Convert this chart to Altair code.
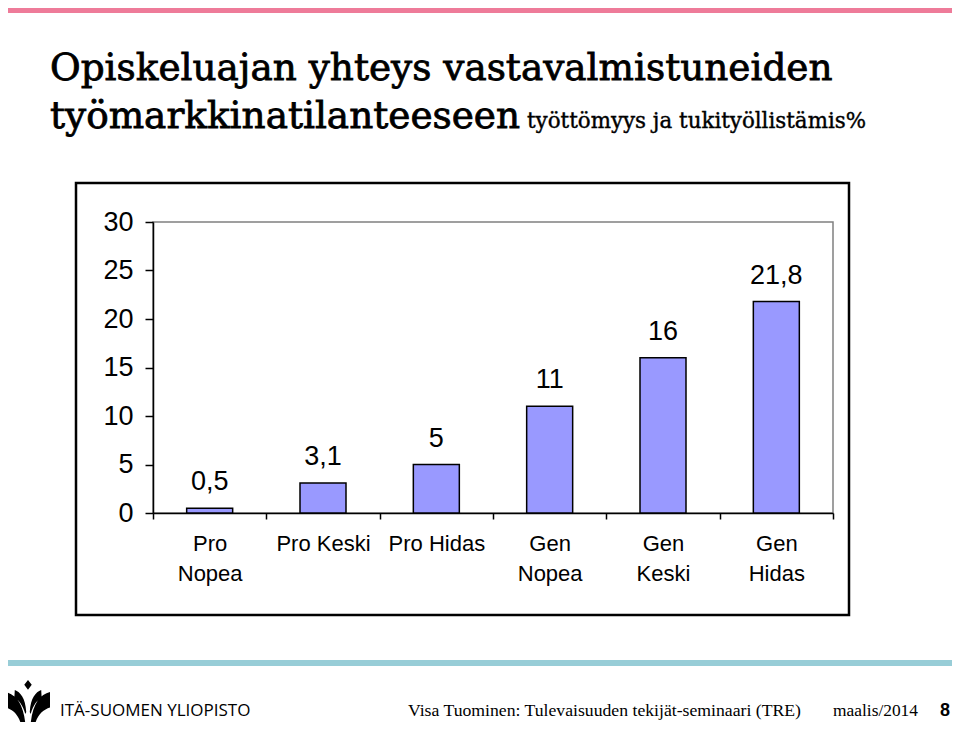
import altair as alt
import pandas as pd

categories = ["Pro\nNopea", "Pro Keski", "Pro Hidas", "Gen\nNopea", "Gen\nKeski", "Gen\nHidas"]
values = [0.5, 3.1, 5, 11, 16, 21.8]
y_ticks = [0, 5, 10, 15, 20, 25, 30]

title_line1 = "Opiskeluajan yhteys vastavalmistuneiden"
title_line2 = "työmarkkinatilanteeseen"
subtitle = "työttömyys ja tukityöllistämis%"
footer_logo = "ITÄ-SUOMEN YLIOPISTO"
footer_text = "Visa Tuominen: Tulevaisuuden tekijät-seminaari (TRE)"
footer_date = "maalis/2014"
footer_page = "8"

df = pd.DataFrame({
    "cat": categories,
    "value": values,
    "label": [f"{v:g}".replace(".", ",") for v in values],
})

W, H = 680, 291
PL, PT = 145, 214  # plot origin at page (153, 222)

SANS = "Liberation Sans"
SERIF = "Liberation Serif"
TSERIF = "DejaVu Serif"

xenc = alt.X("cat:N", sort=categories, title=None,
             scale=alt.Scale(paddingInner=0, paddingOuter=0),
             axis=alt.Axis(labelExpr="split(datum.label, '\\n')", labelAngle=0,
                           labelFont=SANS, labelFontSize=22, labelColor="black",
                           labelLineHeight=30, labelPadding=14, labelBaseline="top",
                           tickBand="extent", tickSize=6, tickColor="black", tickWidth=1.5,
                           domainColor="black", domainWidth=1.5))
yenc = alt.Y("value:Q", title=None,
             scale=alt.Scale(domain=[0, 30], nice=False),
             axis=alt.Axis(values=y_ticks, grid=False, labelFont=SANS, labelFontSize=27,
                           labelColor="black", labelPadding=12, tickSize=8,
                           tickColor="black", tickWidth=1.5,
                           domainColor="black", domainWidth=1.5))

base = alt.Chart(df)
bars = base.mark_bar(color="#9999ff", stroke="black", strokeWidth=1.5, size=46).encode(x=xenc, y=yenc)
labels = base.mark_text(font=SANS, fontSize=27, color="black", baseline="alphabetic", dy=-18).encode(
    x=alt.X("cat:N", sort=categories), y="value:Q", text="label:N")

dec = alt.Chart(pd.DataFrame({"a": [0]}))

def px(x):
    return x - 153

def py(y):
    return y - 222

pink = dec.mark_rect(color="#ee7b99").encode(
    x=alt.value(px(8)), x2=alt.value(px(952)), y=alt.value(py(8)), y2=alt.value(py(13)))
teal = dec.mark_rect(color="#98cdd7").encode(
    x=alt.value(px(8)), x2=alt.value(px(952)), y=alt.value(py(660)), y2=alt.value(py(666)))
box = dec.mark_rect(fill=None, stroke="black", strokeWidth=2.5).encode(
    x=alt.value(px(76)), x2=alt.value(px(849)), y=alt.value(py(183)), y2=alt.value(py(615)))

def txt(s, x, y, size, font=SERIF, weight="normal", align="left", stroke_w=0):
    kw = dict(text=s, font=font, fontSize=size, fontWeight=weight, align=align,
              baseline="alphabetic", color="black")
    if stroke_w:
        kw.update(stroke="black", strokeWidth=stroke_w)
    return dec.mark_text(**kw).encode(x=alt.value(px(x)), y=alt.value(py(y)))

t1 = txt(title_line1, 50, 80, 37.4, font=TSERIF, stroke_w=0.8)
t2 = txt(title_line2, 50, 128, 37.4, font=TSERIF, stroke_w=0.8)
t3 = txt(subtitle, 527, 128, 21.4, font=TSERIF, stroke_w=0.4)
f1 = txt(footer_logo, 60, 716, 17, font="Open Sans")
f2 = txt(footer_text, 408, 716, 17.7)
f3 = txt(footer_date, 833, 716, 17.4)
f4 = txt(footer_page, 950, 716, 18, font=SANS, weight="bold", align="right")

logo_path = ("M0,-1 L0.17,-0.78 L0,-0.56 L-0.17,-0.78 Z "
             "M-1,-0.45 C-0.55,-0.35 -0.2,0.1 -0.12,1 L-0.32,1 C-0.45,0.55 -0.7,0.35 -1,0.25 Z "
             "M1,-0.45 C0.55,-0.35 0.2,0.1 0.12,1 L0.32,1 C0.45,0.55 0.7,0.35 1,0.25 Z "
             "M-0.6,-0.55 C-0.35,-0.45 -0.12,-0.2 -0.08,0.45 L-0.12,0.55 C-0.25,0.1 -0.45,-0.1 -0.62,-0.2 Z "
             "M0.6,-0.55 C0.35,-0.45 0.12,-0.2 0.08,0.45 L0.12,0.55 C0.25,0.1 0.45,-0.1 0.62,-0.2 Z")
logo = dec.mark_point(shape=logo_path, filled=True, color="black", size=44 * 44, opacity=1).encode(
    x=alt.value(px(28)), y=alt.value(py(702)))

chart = alt.layer(pink, teal, box, bars, labels, t1, t2, t3, f1, f2, f3, f4, logo).properties(
    width=W, height=H, autosize="none",
    padding={"left": PL, "top": PT, "right": 944 - PL - W, "bottom": 714 - PT - H},
    background="white",
).configure_view(stroke="#808080", strokeWidth=1.5)

chart.save("out.html", embed_options={"renderer": "svg", "actions": False})
